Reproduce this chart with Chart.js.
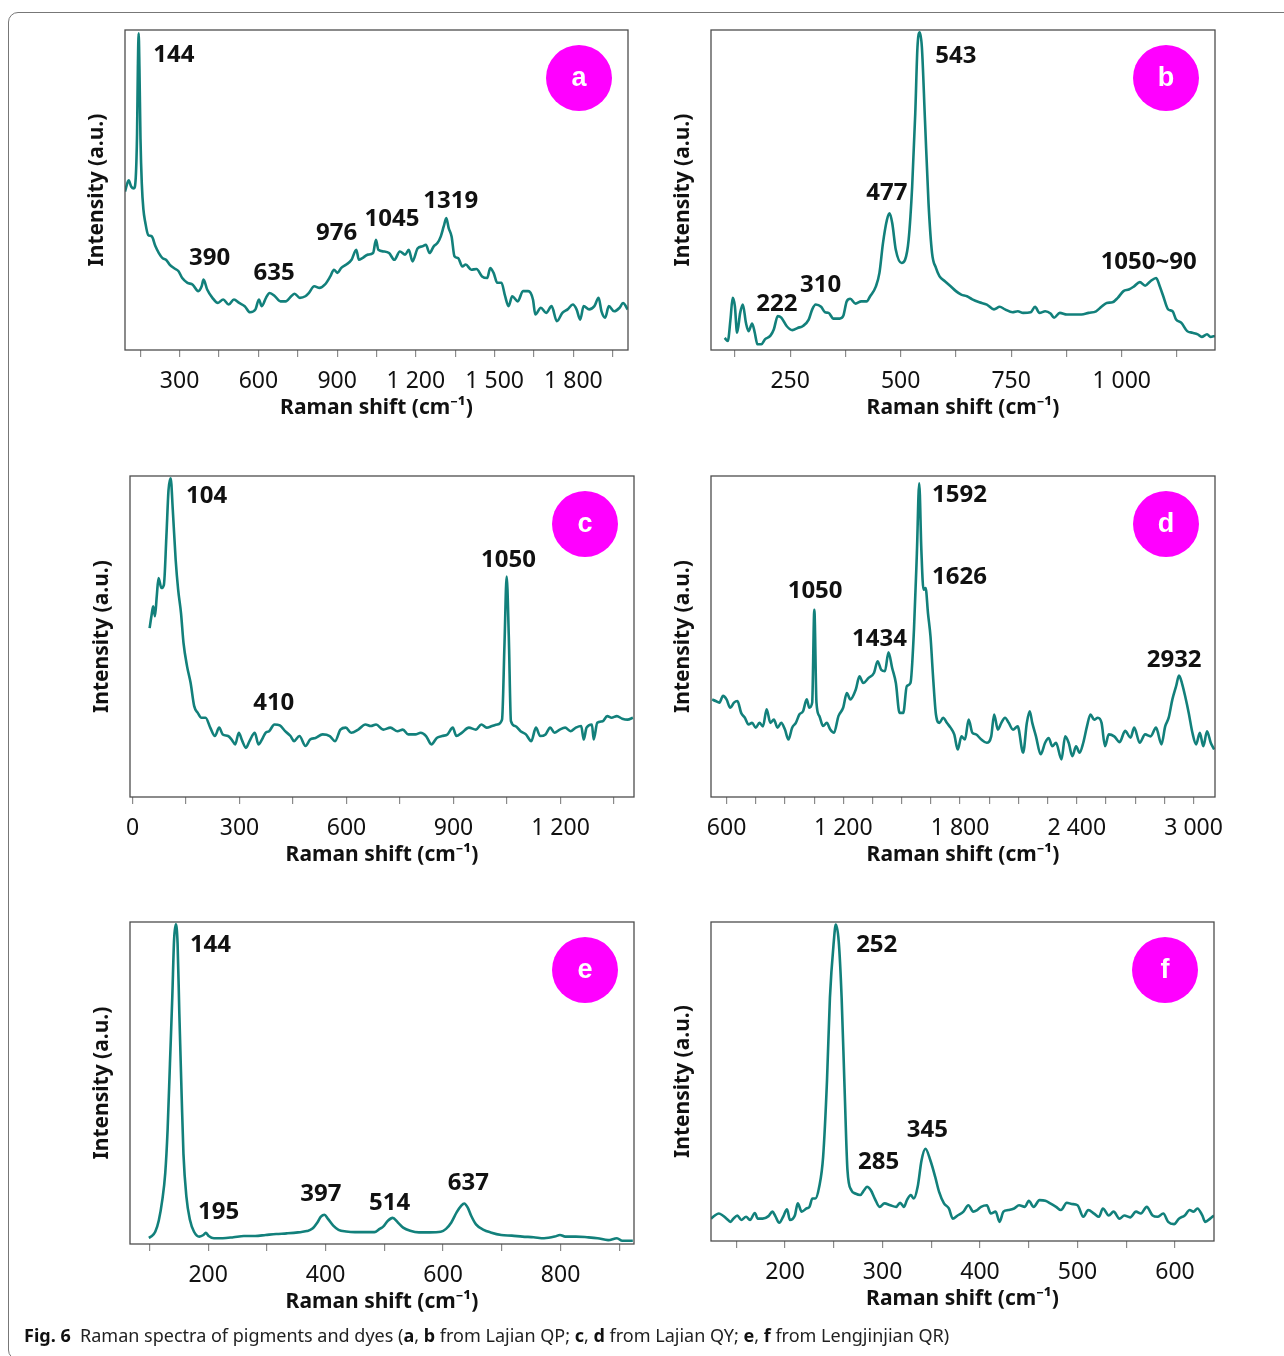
<!DOCTYPE html>
<html>
<head>
<meta charset="utf-8">
<script src="https://cdn.jsdelivr.net/npm/chart.js@4.4.1/dist/chart.umd.min.js"></script>
<style>
  body { margin: 0; background: #fff; width: 1284px; height: 1356px; overflow: hidden; position: relative; }
  #frame { position: absolute; left: 8px; top: 12px; width: 1300px; height: 1346px; border: 1.5px solid #777; border-radius: 10px; }
  canvas { position: absolute; }
  #caption { position: absolute; left: 24px; top: 1323px; font-family: "Noto Sans", sans-serif; font-size: 18px; color: #222; white-space: nowrap; }
  #caption b { color: #111; }
</style>
</head>
<body>
<div id="frame"></div>
<canvas id="chartA" width="583" height="410" style="left:55px;top:20px"></canvas>
<canvas id="chartB" width="584" height="410" style="left:641px;top:20px"></canvas>
<canvas id="chartC" width="584" height="411" style="left:60px;top:466px"></canvas>
<canvas id="chartD" width="584" height="411" style="left:641px;top:466px"></canvas>
<canvas id="chartE" width="584" height="412" style="left:60px;top:912px"></canvas>
<canvas id="chartF" width="583" height="409" style="left:641px;top:912px"></canvas>
<div id="caption"><b>Fig. 6</b>&nbsp; Raman spectra of pigments and dyes (<b>a</b>, <b>b</b> from Lajian QP; <b>c</b>, <b>d</b> from Lajian QY; <b>e</b>, <b>f</b> from Lengjinjian QR)</div>
<script>
// Panel a (Lajian QP)
const shiftA = [92,106,116,126,133,138,141,144,147,151,156,162,169,180,194,208,221,235,248,262,278,296,310,330,350,371,384,391,405,425,446,466,487,507,527,548,568,589,602,613,629,643,663,684,704,725,738,758,779,792,813,833,853,874,888,901,915,935,955,973,983,996,1017,1037,1048,1057,1078,1098,1118,1139,1159,1173,1187,1207,1225,1238,1252,1268,1282,1295,1306,1316,1325,1336,1347,1361,1377,1390,1411,1431,1452,1472,1483,1496,1510,1526,1540,1553,1567,1588,1608,1628,1646,1655,1676,1696,1717,1737,1758,1778,1798,1812,1826,1839,1860,1880,1896,1907,1921,1935,1955,1976,1989,2007];
const intensityA = [49.5,53,51,50.5,54,68,88,99,88,66,52,44,40,36,35.5,32.4,30.3,28.7,28.2,26.7,25.6,24.6,22.5,21,20.4,18.4,19.9,22,18.9,16.3,14.7,15.8,14.2,15.8,14.7,13.7,11.8,12.7,15.8,13.7,16.3,17.8,16.8,15.2,15.2,16.8,17.6,16.3,16.8,17.8,19.9,19.4,20.4,23,25.1,24.1,25.6,26.7,28.2,31.3,28.2,28.7,29.8,30.3,34.4,31.3,30.8,30.3,28.2,30.8,29.8,31.3,27.7,31.8,32.4,32.9,30.3,32.4,33.4,35.5,38.6,41.2,38.1,35.5,29.3,28.7,26.1,26.7,25.1,25.3,23,22.5,25.6,24.1,21,21,16.8,13.7,16.8,15.2,18.4,18.4,15.8,11.1,13.2,11.6,13.7,9,11.6,12.7,14.2,12.7,9.5,13.7,12.7,13.7,16.3,12.1,10.1,13.7,12.1,13.2,14.7,12.7];
const tickLabelsA = [300,600,900,1200,1500,1800];
const peakTextA = ["144","390","635","976","1045","1319"];
const peakShiftA = [278,414,660,898,1109,1333];
const peakLevelA = [92,28.7,24.1,36.5,40.9,46.4];

// Panel b (Lajian QP)
const shiftB = [102,109,115,120,125,130,137,143,150,156,164,170,176,185,193,205,213,222,230,242,255,267,279,292,300,308,320,329,337,348,362,370,378,386,398,411,423,431,444,452,460,469,475,481,489,502,510,518,526,533,538,543,548,555,563,571,580,588,600,613,625,637,650,662,678,695,711,724,736,753,765,777,794,804,814,827,839,847,860,876,892,909,925,942,954,966,979,991,1004,1016,1028,1041,1053,1065,1078,1086,1094,1105,1115,1123,1135,1148,1160,1172,1181,1193,1201,1211];
const intensityB = [3.8,2.8,9.5,16.3,13.7,5.4,11.6,14.2,8.5,5.9,8.3,5.4,1.8,1.8,3.3,4.4,6.4,10.6,10.1,7.5,6.2,6.9,7.5,9.5,12.7,14.2,13.5,11.8,11.6,9.8,9.8,10.6,15.2,16,14.5,15.2,15.2,16.8,19.9,24.1,33.4,40.7,42.7,39.6,31.3,27.2,28.2,34.4,51,73.9,94.6,99.3,94.6,71.8,45.9,30.3,25.6,23,21.5,19.9,18.4,17.3,16.8,15.8,14.9,14.2,12.7,13.5,12.7,11.8,12.1,11.6,11.8,13.5,11.6,12.1,11.4,10.1,11.6,11.1,11.1,11.1,11.6,12.1,13.5,14.7,14.9,16.3,18.4,18.9,19.9,21.2,20.1,21.5,22.5,19.9,16.8,12.7,12.1,9.5,8.5,5.9,5.4,4.9,4.1,4.9,4.1,4.4];
const tickLabelsB = [250,500,750,1000];
const peakTextB = ["543","477","310","222","1050~90"];
const peakShiftB = [625,469,319,220,1061];
const peakLevelB = [91.7,49,20.4,14.2,27.5];

// Panel c (Lajian QY)
const shiftC = [48,53,58,63,68,73,81,88,95,101,107,113,121,128,136,143,153,163,173,183,193,205,218,231,243,253,268,278,288,298,308,318,328,343,353,363,373,383,398,413,428,443,453,468,485,498,513,533,553,568,583,598,613,633,653,668,683,703,723,743,758,773,793,808,823,838,853,868,883,898,908,923,943,963,978,993,1008,1023,1036,1043,1049,1055,1061,1073,1088,1103,1118,1131,1143,1158,1171,1183,1198,1213,1228,1243,1258,1265,1273,1288,1293,1303,1318,1331,1343,1358,1373,1388,1403];
const intensityC = [52.6,56.3,59.4,56.3,62.5,68.2,65.1,66.1,81.1,95.6,99.3,89.4,73.9,64.6,57.3,48,40.7,35.5,28.3,26.2,24.7,24.7,21.6,19,21.6,19.5,19,17.9,16.4,20,17.4,15.3,17.4,20,16.4,17.9,20,20.5,22.6,22.3,20.5,19,17.4,19,15.9,17.9,18.4,19.5,19,17.4,21,21.6,20,21,22.6,22.1,22.6,21,21.6,20.5,21,19.5,19.5,20,19,16.4,18.4,19,19.5,21.6,19,20,21.6,21,22.6,21.6,22.1,22.6,24.1,48,68.7,50,23.6,22.1,20.5,19.5,17.4,21.6,19,19.5,21.6,20,21,21.6,20.5,21.6,22.1,17.9,21.6,22.6,17.9,23.1,23.6,25.2,24.7,25.2,24.4,24.1,24.7];
const tickLabelsC = [0,300,600,900,1200];
const peakTextC = ["104","410","1050"];
const peakShiftC = [208,396,1054];
const peakLevelC = [93.6,29.3,73.9];

// Panel d (Lajian QY)
const shiftD = [526,544,563,582,600,619,638,656,675,694,713,731,750,769,787,806,825,843,862,881,900,918,937,956,974,993,1012,1025,1040,1051,1062,1077,1096,1115,1133,1152,1175,1199,1218,1236,1264,1283,1302,1330,1358,1376,1395,1414,1432,1451,1470,1489,1508,1526,1545,1563,1578,1590,1601,1612,1623,1635,1648,1661,1676,1694,1713,1732,1751,1770,1788,1807,1825,1844,1863,1882,1909,1937,1960,1975,1994,2012,2031,2050,2072,2096,2124,2143,2158,2171,2190,2214,2237,2255,2274,2293,2321,2340,2358,2377,2396,2414,2433,2452,2470,2489,2508,2527,2545,2564,2592,2620,2648,2676,2695,2723,2751,2779,2807,2835,2854,2872,2891,2910,2925,2940,2957,2975,2994,3013,3032,3050,3069,3088,3106];
const intensityD = [30.4,29.9,29.4,31.5,30.4,27.8,29.4,29.9,26.2,24.7,22.6,23.1,21.6,23.1,22,27.3,23.1,24.1,21.6,23.1,21,17.9,21.6,23.1,25.7,26.7,30.4,27.8,29.4,58.3,29.4,25.2,22.1,23.1,21,20,25.2,27.8,32.4,30.4,33.5,37.6,35.5,37.1,38.7,42.3,39.6,39.2,45.1,40.2,35.5,26.2,26.2,34.5,35.5,52.1,76,97.7,77,64.6,65.1,57.3,50,37.6,25.7,23.1,24.7,23.1,21.6,19.5,14.8,18.9,17.9,24.1,20,19.5,17.9,16.9,18.9,25.7,21,23.1,24.7,23.1,21,22,13.8,23.1,26.7,23.1,18.9,13.3,16.9,18.4,15.8,16.9,11.7,18.9,16.9,12.7,15.8,13.8,16.9,22,25.7,24.1,24.7,23.1,15.8,19.5,18.9,17.1,20.6,18.5,21.6,16.9,19.5,18.9,21.6,16.4,22,24.7,30.4,34.5,37.8,35.5,31.3,26.2,20,16.4,20,15.8,20.5,16.9,14.8];
const tickLabelsD = [600,1200,1800,2400,3000];
const peakTextD = ["1592","1626","1050","1434","2932"];
const peakShiftD = [1797,1797,1055,1386,2900];
const peakLevelD = [94.1,68.5,64,49.2,42.6];

// Panel e (Lengjinjian QR)
const shiftE = [99,103,110,116,122,127,131,135,139,142,145,148,151,155,158,163,169,176,185,192,196,201,210,225,243,261,280,298,316,334,353,368,377,386,392,398,404,413,422,435,450,468,483,492,498,506,514,523,532,544,559,577,596,605,614,623,631,636,642,648,656,669,681,699,717,735,754,772,790,799,808,826,845,863,881,896,905,923];
const intensityE = [1.9,2.3,3.8,7.3,13.7,22,35.4,56,76.7,94.3,99.3,93.3,71.5,45.6,28,14.7,7.5,3.8,2.3,2.8,3.5,2.5,1.8,1.8,2.1,2.5,2.5,2.8,3.1,3.3,3.6,4,4.7,6.7,8.5,9.1,7.8,5.7,4.4,3.9,3.7,3.7,3.7,4.7,5.4,7.2,8.1,6.7,5.1,4.1,3.6,3.6,3.8,4.7,6.7,9.8,11.9,12.6,11.3,8.7,6.1,4.4,3.6,2.8,2.6,2.3,2.1,1.8,2.3,2.8,2.3,2.3,2.1,1.8,1.2,1.8,1,1];
const tickLabelsE = [200,400,600,800];
const peakTextE = ["144","195","397","514","637"];
const peakShiftE = [204,218,392,509,643];
const peakLevelE = [92.7,10,15.5,12.6,18.8];

// Panel f (Lengjinjian QR)
const shiftF = [124,128,132,136,140,144,147,151,155,160,164,169,172,177,183,187,190,194,198,202,205,210,213,217,222,225,228,231,235,239,243,246,250,252,255,258,261,264,268,272,277,281,284,288,292,297,302,308,314,318,322,325,329,332,336,340,344,349,354,358,363,368,372,377,383,388,393,397,401,407,411,416,420,424,429,435,440,446,450,455,461,467,472,478,483,489,494,500,506,511,517,522,526,532,537,543,548,554,560,565,571,577,582,588,593,599,604,610,615,619,623,628,631,636,640];
const intensityF = [7,8,8.6,8,7,6,7,8,6.6,7.6,6.6,8.8,7,7,7.8,9.2,7.8,5.7,7.6,9.9,6.6,8,11.8,9.2,10.2,10.7,13.3,13.3,17,26.3,50.3,76.3,94,99.2,94,76.3,48.2,22.2,15.9,14.9,14.4,15.9,17,15.9,13.3,10.7,11.8,11.2,10.7,12,10.7,12.8,14.4,13.3,17,25.3,28.9,25.3,20.1,15.4,11.8,10.2,7,8,9.2,11.2,9.2,9.7,10.7,11.2,8.6,9.2,6,9.2,9.7,10.2,11.2,10.7,12.6,10.7,12.8,12.6,11.8,10.7,9.7,12,11.6,11.2,7.6,9.7,8.6,7.6,10.2,8,9.2,7,8,7.4,9.2,8.6,10.7,8,7.6,8.6,6,5.3,7,8,9.7,9.2,10.2,8,6,7,8];
const tickLabelsF = [200,300,400,500,600];
const peakTextF = ["252","345","285"];
const peakShiftF = [294,346,296];
const peakLevelF = [92.7,34.8,24.7];

const LINE_COLOR = "#12807b";
const FONT = '"Noto Sans", "Open Sans", sans-serif';
Chart.defaults.font.family = FONT;
Chart.defaults.color = "#111";

// format 1200 -> "1 200"
function formatTick(v) {
  return v >= 1000 ? String(v).replace(/(\d)(\d{3})$/, "$1 $2") : String(v);
}

// frame, peak labels and letter badge
const panelDecor = {
  id: "panelDecor",
  afterDraw(chart, args, opts) {
    const { ctx, chartArea: a, scales } = chart;
    ctx.save();
    ctx.strokeStyle = "#4d4d4d";
    ctx.lineWidth = 1.3;
    ctx.strokeRect(a.left, a.top, a.right - a.left, a.bottom - a.top);

    ctx.fillStyle = "#111";
    ctx.font = "bold 24px " + FONT;
    ctx.textAlign = "center";
    ctx.textBaseline = "middle";
    opts.texts.forEach((t, i) => {
      ctx.fillText(t, scales.x.getPixelForValue(opts.shifts[i]), scales.y.getPixelForValue(opts.levels[i]));
    });

    const cx = a.right - 49, cy = a.top + 48;
    ctx.fillStyle = "#ff00ff";
    ctx.beginPath();
    ctx.arc(cx, cy, 33, 0, Math.PI * 2);
    ctx.fill();
    ctx.fillStyle = "#fff";
    ctx.font = 'bold 27px "Liberation Sans", Arial, sans-serif';
    ctx.fillText(opts.letter, cx, cy + 1);
    ctx.restore();
  },
};

function makePanel(id, letter, shifts, intensities, xMin, xMax, step, tickLabels, texts, peakShifts, peakLevels) {
  const n = Math.min(shifts.length, intensities.length);
  const points = [];
  for (let i = 0; i < n; i++) points.push({ x: shifts[i], y: intensities[i] });

  return new Chart(document.getElementById(id), {
    type: "scatter",
    data: {
      datasets: [{
        data: points,
        showLine: true,
        borderColor: LINE_COLOR,
        borderWidth: 2.6,
        pointRadius: 0,
        cubicInterpolationMode: "monotone",
      }],
    },
    options: {
      responsive: false,
      animation: false,
      events: [],
      layout: { padding: { left: 0, top: 10, right: 10, bottom: 0 } },
      plugins: {
        legend: { display: false },
        tooltip: { enabled: false },
        panelDecor: { letter: letter, texts: texts, shifts: peakShifts, levels: peakLevels },
      },
      scales: {
        x: {
          type: "linear",
          min: xMin,
          max: xMax,
          // fixed axis height, and no extra room for labels at the edges
          afterFit(s) {
            s.height = 80;
            s.paddingLeft = 0;
            s.paddingRight = 0;
          },
          // one tick mark every "step", labels only on the listed values
          afterBuildTicks(s) {
            const list = [];
            for (let v = Math.ceil(xMin / step) * step; v <= xMax; v += step) list.push({ value: v });
            s.ticks = list;
          },
          border: { display: false },
          grid: { display: true, drawOnChartArea: false, drawTicks: true, tickLength: 7, color: "#8a8a8a", lineWidth: 1.2 },
          ticks: {
            autoSkip: false,
            maxRotation: 0,
            padding: 11,
            color: "#111",
            font: { size: 23 },
            callback: (v) => (tickLabels.includes(Math.round(v)) ? formatTick(Math.round(v)) : ""),
          },
          title: {
            display: true,
            text: "Raman shift (cm\u207B\u00B9)",
            font: { size: 21, weight: "bold" },
            color: "#111",
            padding: { top: 0, bottom: 9 },
          },
        },
        y: {
          min: 0,
          max: 100,
          afterFit(s) { s.width = 70; },
          border: { display: false },
          grid: { display: false },
          ticks: { display: false },
          title: {
            display: true,
            text: "Intensity (a.u.)",
            font: { size: 21, weight: "bold" },
            color: "#111",
            padding: { top: 29, bottom: 0 },
          },
        },
      },
    },
    plugins: [panelDecor],
  });
}

makePanel("chartA", "a", shiftA, intensityA, 92, 2008, 150, tickLabelsA, peakTextA, peakShiftA, peakLevelA);
makePanel("chartB", "b", shiftB, intensityB, 71, 1211, 125, tickLabelsB, peakTextB, peakShiftB, peakLevelB);
makePanel("chartC", "c", shiftC, intensityC, -7, 1406, 150, tickLabelsC, peakTextC, peakShiftC, peakLevelC);
makePanel("chartD", "d", shiftD, intensityD, 520, 3110, 150, tickLabelsD, peakTextD, peakShiftD, peakLevelD);
makePanel("chartE", "e", shiftE, intensityE, 67, 925, 100, tickLabelsE, peakTextE, peakShiftE, peakLevelE);
makePanel("chartF", "f", shiftF, intensityF, 124, 640, 50, tickLabelsF, peakTextF, peakShiftF, peakLevelF);
</script>
</body>
</html>
